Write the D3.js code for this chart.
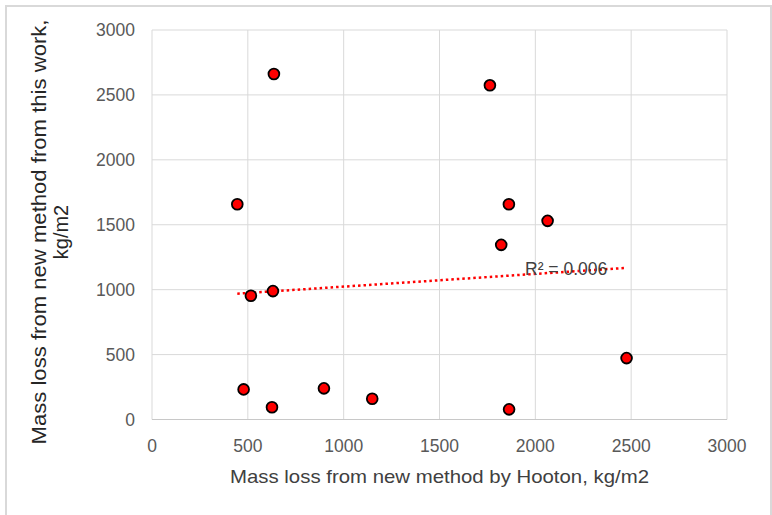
<!DOCTYPE html>
<html>
<head>
<meta charset="utf-8">
<script src="https://cdn.jsdelivr.net/npm/d3@7"></script>
<style>
  body { margin: 0; background: #fff; }
  svg { display: block; font-family: "Liberation Sans", Arial, sans-serif; }
</style>
</head>
<body>
<div id="chart"></div>
<script>
// values
let hooton = [636, 445, 1763, 1862, 516, 631, 478, 626, 897, 1149, 2064, 1822, 2476, 1863];
let thisWork = [2661, 1658, 2574, 1658, 953, 989, 232, 94, 240, 160, 1530, 1345, 473, 78];
let xTicks = [0, 500, 1000, 1500, 2000, 2500, 3000];
let yTicks = [0, 500, 1000, 1500, 2000, 2500, 3000];
let xTitle = "Mass loss from new method by Hooton, kg/m2";
let yTitle = ["Mass loss from new method from this work,", "kg/m2"];

let width = 772,
  height = 515;
let margin = { top: 30, right: 45, bottom: 95.5, left: 152 };

let svg = d3
  .select("#chart")
  .append("svg")
  .attr("width", width)
  .attr("height", height);

// outer chart border
svg
  .append("rect")
  .attr("x", 6)
  .attr("y", 6)
  .attr("width", 765)
  .attr("height", 520)
  .attr("fill", "none")
  .attr("stroke", "#d9d9d9")
  .attr("stroke-width", 2);

let x = d3
  .scaleLinear()
  .domain([0, 3000])
  .range([margin.left, width - margin.right]);
let y = d3
  .scaleLinear()
  .domain([0, 3000])
  .range([height - margin.bottom, margin.top]);

// gridlines
svg
  .append("g")
  .selectAll("line")
  .data(xTicks)
  .join("line")
  .attr("x1", d => x(d))
  .attr("x2", d => x(d))
  .attr("y1", y(0))
  .attr("y2", y(3000))
  .attr("stroke", "#d9d9d9")
  .attr("stroke-width", 1);
svg
  .append("g")
  .selectAll("line")
  .data(yTicks)
  .join("line")
  .attr("x1", x(0))
  .attr("x2", x(3000))
  .attr("y1", d => y(d))
  .attr("y2", d => y(d))
  .attr("stroke", d => (d === 0 ? "#c8c8c8" : "#d9d9d9"))
  .attr("stroke-width", 1);

// tick labels
svg
  .append("g")
  .selectAll("text")
  .data(xTicks)
  .join("text")
  .attr("x", d => x(d))
  .attr("y", 452)
  .attr("text-anchor", "middle")
  .attr("font-size", "17.5px")
  .attr("fill", "#595959")
  .text(d => d);
svg
  .append("g")
  .selectAll("text")
  .data(yTicks)
  .join("text")
  .attr("x", 135)
  .attr("y", d => y(d))
  .attr("dy", "0.35em")
  .attr("text-anchor", "end")
  .attr("font-size", "17.5px")
  .attr("fill", "#595959")
  .text(d => d);

// axis titles
svg
  .append("text")
  .attr("x", x(1500))
  .attr("y", 483)
  .attr("text-anchor", "middle")
  .attr("font-size", "19px")
  .attr("fill", "#404040")
  .attr("textLength", 419)
  .attr("lengthAdjust", "spacingAndGlyphs")
  .text(xTitle);

let yt = svg
  .append("text")
  .attr("transform", "translate(0,232) rotate(-90)")
  .attr("text-anchor", "middle")
  .attr("font-size", "20px")
  .attr("fill", "#262626");
yt.append("tspan")
  .attr("x", 0)
  .attr("y", 46)
  .attr("textLength", 425)
  .attr("lengthAdjust", "spacingAndGlyphs")
  .text(yTitle[0]);
yt.append("tspan")
  .attr("x", 0)
  .attr("y", 68)
  .text(yTitle[1]);

// linear trendline from least squares
let mx = d3.mean(hooton),
  my = d3.mean(thisWork);
let sxy = d3.sum(hooton, (v, i) => (v - mx) * (thisWork[i] - my));
let sxx = d3.sum(hooton, v => (v - mx) ** 2);
let syy = d3.sum(thisWork, v => (v - my) ** 2);
let slope = sxy / sxx;
let intercept = my - slope * mx;
let r2 = (sxy * sxy) / (sxx * syy);
let ext = d3.extent(hooton);

svg
  .append("line")
  .attr("x1", x(ext[0]))
  .attr("y1", y(intercept + slope * ext[0]))
  .attr("x2", x(ext[1]))
  .attr("y2", y(intercept + slope * ext[1]))
  .attr("stroke", "#ff0000")
  .attr("stroke-width", 2.5)
  .attr("stroke-dasharray", "2.5,3");

svg
  .append("text")
  .attr("x", 525)
  .attr("y", 275)
  .attr("font-size", "17.5px")
  .attr("fill", "#404040")
  .text(`R² = ${d3.format(".3f")(r2)}`);

// points
svg
  .append("g")
  .selectAll("circle")
  .data(hooton.map((v, i) => [v, thisWork[i]]))
  .join("circle")
  .attr("cx", d => x(d[0]))
  .attr("cy", d => y(d[1]))
  .attr("r", 5.4)
  .attr("fill", "#ff0000")
  .attr("stroke", "#000")
  .attr("stroke-width", 1.8);
</script>
</body>
</html>
